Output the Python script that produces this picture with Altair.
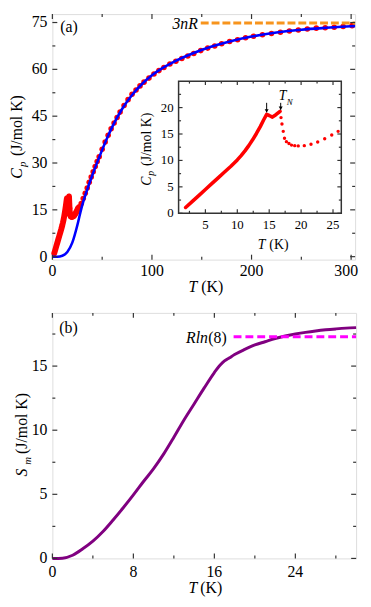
import altair as alt
import pandas as pd

FONT = "Liberation Serif"
FRAME = "#333333"
RED = "#ff0000"
BLUE = "#0000ff"
ORANGE = "#f7941d"
PURPLE = "#800080"
MAGENTA = "#ff00ff"

# ---------------- panel (a): Cp vs T ----------------
fit_T = [0, 5, 10, 15, 20, 25, 28, 30, 35, 40, 45, 50, 55, 60, 70, 80, 90, 100, 110, 120,
         140, 160, 180, 200, 225, 250, 275, 300, 305]
fit_Cp = [0, 0, 0.3, 1.5, 4.5, 10, 14, 16.5, 21.5, 26, 30.2, 34.2, 38, 41.5, 47.3, 51.8, 55.3,
          58.1, 60.3, 62.1, 65, 67.3, 69.1, 70.5, 71.8, 72.7, 73.3, 73.8, 73.9]

# dense low-temperature measurement (below the transitions)
low_T = [1.9, 3, 4, 5, 6, 7, 8, 9, 10, 10.6, 11.2, 11.8, 12.4, 13.0, 13.6, 14.1, 14.6,
         15.0, 15.5, 16.0, 16.4, 16.7]
low_Cp = [1.1, 2.3, 3.4, 4.5, 5.6, 6.7, 7.8, 8.9, 10.1, 10.9, 11.8, 12.8, 13.9, 15.1, 16.4,
          17.6, 18.7, 18.5, 18.2, 18.6, 19.0, 19.3]

# sparse points above T_N
hi_T = [16.85, 17.0, 17.2, 17.4, 17.7, 18.1, 18.5, 19.0, 19.55, 20.5, 21.55, 22.6, 23.7, 24.8, 25.8]
hi_Cp = [18.1, 16.9, 15.5, 14.2, 13.55, 13.2, 12.9, 12.8, 12.75, 12.8, 13.05, 13.5, 14.1, 14.8, 15.5]

# points over the full range
red_T = [27, 29, 31, 33, 35, 37, 39, 41, 43, 45, 47, 50, 53, 56, 59, 62, 65, 68, 72, 76, 80,
         84, 88, 92, 97, 102, 107, 112, 118, 124, 130, 136, 142, 149, 156, 163, 170, 178, 186,
         194, 202, 211, 220, 229, 238, 247, 256, 265, 274, 283, 292, 301]
red_Cp = [16.0, 17.0, 18.6, 20.3, 22.0, 23.8, 25.5, 27.2, 28.9, 30.5, 32.0, 34.4, 36.7, 38.9,
          41.0, 42.8, 44.6, 46.3, 48.4, 50.3, 52.0, 53.4, 54.7, 55.9, 57.2, 58.5, 59.6, 60.6,
          61.7, 62.6, 63.5, 64.3, 65.1, 66.0, 66.8, 67.5, 68.2, 68.9, 69.5, 70.1, 70.6, 71.1,
          71.5, 71.9, 72.3, 72.6, 72.9, 73.2, 73.3, 73.5, 73.7, 74.0]

three_nR = 74.83
dash_a_T = [149, 304]

arrow_T = [14.6, 16.8]
arrow_top = [20.9, 20.9]
arrow_tip = [19.1, 19.6]

a_x_major = [0, 100, 200, 300]
a_x_minor = [50, 150, 250]
a_y_major = [0, 15, 30, 45, 60, 75]
a_y_minor = [7.5, 22.5, 37.5, 52.5, 67.5]
in_x_major = [5, 10, 15, 20, 25]
in_x_minor = [2.5, 7.5, 12.5, 17.5, 22.5]
in_y_major = [0, 5, 10, 15, 20]
in_y_minor = [2.5, 7.5, 12.5, 17.5, 22.5]

# ---------------- panel (b): S_m vs T ----------------
S_T = [0, 1, 2, 3, 4, 5, 6, 7, 8, 9, 10, 11, 12, 13, 14, 15, 16, 16.6, 17, 17.5, 18, 19, 20,
       21, 22, 23, 24, 25, 26, 27, 28, 29, 30]
S_m = [0, 0.02, 0.25, 0.75, 1.35, 2.1, 3.0, 3.95, 4.95, 6.0, 7.0, 8.15, 9.45, 10.8, 12.05,
       13.3, 14.5, 15.1, 15.4, 15.65, 15.9, 16.3, 16.65, 16.9, 17.15, 17.35, 17.5, 17.63, 17.74,
       17.83, 17.9, 17.96, 18.0]
R_ln8 = 17.29
dash_b_T = [17.9, 30]

b_x_major = [0, 8, 16, 24]
b_x_minor = [4, 12, 20, 28]
b_y_major = [0, 5, 10, 15]
b_y_minor = [2.5, 7.5, 12.5, 17.5]

# ---------------- layout constants ----------------
WA, HA = 307, 249
WB, HB = 308, 249
IN_L, IN_R, IN_T, IN_B = 128, 293, 68, 202

ax = alt.Scale(domain=[0, 304], nice=False, zero=False)
ay = alt.Scale(domain=[-0.95, 77.7], nice=False, zero=False)
ix = alt.Scale(domain=[0.8, 26.3], range=[IN_L, IN_R], nice=False, zero=False)
iy = alt.Scale(domain=[0, 25], range=[IN_B, IN_T], nice=False, zero=False)
bx = alt.Scale(domain=[0, 30], nice=False, zero=False)
by = alt.Scale(domain=[0, 19.15], nice=False, zero=False)


def X(field, scale):
    return alt.X(field, scale=scale, axis=None)


def Y(field, scale):
    return alt.Y(field, scale=scale, axis=None)


def ticks(values, orient, length, box, scale):
    left, right, top, bottom = box
    c = alt.Chart(pd.DataFrame({"v": values})).mark_rule(color=FRAME, strokeWidth=1.2)
    if orient in ("bottom", "top"):
        x = X("v:Q", scale)
        if orient == "bottom":
            return c.encode(x=x, y=alt.value(bottom), y2=alt.value(bottom - length))
        return c.encode(x=x, y=alt.value(top), y2=alt.value(top + length))
    y = Y("v:Q", scale)
    if orient == "left":
        return c.encode(y=y, x=alt.value(left), x2=alt.value(left + length))
    return c.encode(y=y, x=alt.value(right), x2=alt.value(right - length))


def all_ticks(xmaj, xmin, ymaj, ymin, box, xs, ys, L=5, l=3):
    out = []
    for o in ("bottom", "top"):
        out += [ticks(xmaj, o, L, box, xs), ticks(xmin, o, l, box, xs)]
    for o in ("left", "right"):
        out += [ticks(ymaj, o, L, box, ys), ticks(ymin, o, l, box, ys)]
    return out


def xlabels(values, scale, ypix, size=16, dx=0):
    return alt.Chart(pd.DataFrame({"v": values})).mark_text(
        font=FONT, fontSize=size, align="center", baseline="middle", color="black", dx=dx).encode(
        x=X("v:Q", scale), y=alt.value(ypix), text="v:Q")


def ylabels(values, scale, xpix, size=16):
    return alt.Chart(pd.DataFrame({"v": values})).mark_text(
        font=FONT, fontSize=size, align="right", baseline="middle", color="black").encode(
        y=Y("v:Q", scale), x=alt.value(xpix), text="v:Q")


def label(text, x, y, size=16, italic=False, align="left", baseline="alphabetic", angle=0):
    kw = dict(text=text, font=FONT, fontSize=size, align=align, baseline=baseline, color="black")
    if italic:
        kw["fontStyle"] = "italic"
    if angle:
        kw["angle"] = angle
    return alt.Chart(pd.DataFrame({"k": [0]})).mark_text(**kw).encode(x=alt.value(x), y=alt.value(y))


# ---- panel (a) main layer ----
fit_df = pd.DataFrame({"T": fit_T, "Cp": fit_Cp})
band_df = pd.DataFrame({"T": low_T + hi_T, "Cp": low_Cp + hi_Cp})
pts_df = pd.DataFrame({"T": hi_T + red_T, "Cp": hi_Cp + red_Cp})

blue = alt.Chart(fit_df).mark_line(color=BLUE, strokeWidth=2.6, interpolate="monotone", clip=True).encode(
    x=X("T:Q", ax), y=Y("Cp:Q", ay))
band = alt.Chart(band_df).mark_line(color=RED, strokeWidth=6, strokeCap="round", strokeJoin="round").encode(
    x=X("T:Q", ax), y=Y("Cp:Q", ay))
pts = alt.Chart(pts_df).mark_circle(color=RED, size=32, opacity=1).encode(
    x=X("T:Q", ax), y=Y("Cp:Q", ay))
dash_a = alt.Chart(pd.DataFrame({"T0": [dash_a_T[0]], "T1": [dash_a_T[1]], "v": [three_nR]})).mark_rule(
    color=ORANGE, strokeWidth=3, strokeDash=[8, 3]).encode(
    x=X("T0:Q", ax), x2="T1:Q", y=Y("v:Q", ay))
lab_nR = alt.Chart(pd.DataFrame({"T": [dash_a_T[0]], "v": [three_nR], "t": ["3nR"]})).mark_text(
    font=FONT, fontSize=16, fontStyle="italic", align="right", baseline="middle", dx=-3, dy=1,
    color="black").encode(x=X("T:Q", ax), y=Y("v:Q", ay), text="t:N")

main_a = alt.layer(
    pts, band, blue, dash_a, lab_nR,
    *all_ticks(a_x_major, a_x_minor, a_y_major, a_y_minor, (0, WA, 0, HA), ax, ay),
    xlabels(a_x_major[:-1], ax, HA + 12),
    xlabels(a_x_major[-1:], ax, HA + 12, dx=-5),
    ylabels(a_y_major, ay, -5),
    label("(a)", 8, 13, baseline="middle"),
    label("T", 147, 282, italic=True, align="right"),
    label("(K)", 151, 282),
    label("C", -31, 167, italic=True, angle=270),
    label("p", -27, 155, size=11, italic=True, angle=270),
    label("(J/mol K)", -31, 144, angle=270),
)

# ---- inset ----
inset_frame = alt.Chart(pd.DataFrame({"a": [0.8], "b": [26.3], "c": [0], "d": [25]})).mark_rect(
    fill="white", stroke=FRAME, strokeWidth=1.5).encode(
    x=X("a:Q", ix), x2="b:Q", y=Y("c:Q", iy), y2="d:Q")
in_line = alt.Chart(pd.DataFrame({"T": low_T, "Cp": low_Cp})).mark_line(
    color=RED, strokeWidth=3.6, strokeCap="round", strokeJoin="round").encode(
    x=X("T:Q", ix), y=Y("Cp:Q", iy))
in_pts = alt.Chart(pd.DataFrame({"T": hi_T, "Cp": hi_Cp})).mark_circle(color=RED, size=12, opacity=1).encode(
    x=X("T:Q", ix), y=Y("Cp:Q", iy))
arr_df = pd.DataFrame({"T": arrow_T, "top": arrow_top, "tip": arrow_tip})
arr = alt.Chart(arr_df).mark_rule(color="black", strokeWidth=1).encode(
    x=X("T:Q", ix), y=Y("top:Q", iy), y2="tip:Q")
heads = alt.Chart(arr_df).mark_point(shape="triangle-down", filled=True, color="black", size=16,
                                     opacity=1, yOffset=-1.5).encode(
    x=X("T:Q", ix), y=Y("tip:Q", iy))
tn = alt.Chart(pd.DataFrame({"T": [17.1], "v": [22.1], "t": ["T"]})).mark_text(
    font=FONT, fontSize=14, fontStyle="italic", align="center", baseline="middle", color="black").encode(
    x=X("T:Q", ix), y=Y("v:Q", iy), text="t:N")
tn_sub = alt.Chart(pd.DataFrame({"T": [18.2], "v": [21.0], "t": ["N"]})).mark_text(
    font=FONT, fontSize=9, fontStyle="italic", align="center", baseline="middle", color="black").encode(
    x=X("T:Q", ix), y=Y("v:Q", iy), text="t:N")

inset = alt.layer(
    inset_frame, in_line, in_pts, arr, heads, tn, tn_sub,
    xlabels(in_x_major, ix, IN_B + 12, size=13),
    ylabels(in_y_major, iy, IN_L - 5, size=13),
    *all_ticks(in_x_major, in_x_minor, in_y_major, in_y_minor, (IN_L, IN_R, IN_T, IN_B), ix, iy, 4, 2.5),
    label("T", 216, 238, size=14, italic=True, align="right"),
    label("(K)", 220, 238, size=14),
    label("C", 100, 174, size=14, italic=True, angle=270),
    label("p", 103, 164, size=10, italic=True, angle=270),
    label("(J/mol K)", 100, 154, size=14, angle=270),
)

panel_a = alt.layer(main_a, inset).resolve_scale(x="independent", y="independent").properties(
    width=WA, height=HA)

# ---- panel (b) ----
s_line = alt.Chart(pd.DataFrame({"T": S_T, "S": S_m})).mark_line(
    color=PURPLE, strokeWidth=3, interpolate="monotone").encode(
    x=X("T:Q", bx), y=Y("S:Q", by))
dash_b = alt.Chart(pd.DataFrame({"T0": [dash_b_T[0]], "T1": [dash_b_T[1]], "v": [R_ln8]})).mark_rule(
    color=MAGENTA, strokeWidth=3, strokeDash=[8, 4]).encode(
    x=X("T0:Q", bx), x2="T1:Q", y=Y("v:Q", by))
rln_df = pd.DataFrame({"T": [dash_b_T[0]], "v": [R_ln8], "a": ["(8)"], "b": ["Rln"]})
rln8 = alt.Chart(rln_df).mark_text(font=FONT, fontSize=16, align="right", baseline="middle",
                                   dx=-7, dy=1, color="black").encode(
    x=X("T:Q", bx), y=Y("v:Q", by), text="a:N")
rln = alt.Chart(rln_df).mark_text(font=FONT, fontSize=16, fontStyle="italic", align="right",
                                  baseline="middle", dx=-26, dy=1, color="black").encode(
    x=X("T:Q", bx), y=Y("v:Q", by), text="b:N")

panel_b = alt.layer(
    s_line, dash_b, rln8, rln,
    *all_ticks(b_x_major, b_x_minor, b_y_major, b_y_minor, (0, WB, 0, HB), bx, by),
    xlabels(b_x_major, bx, HB + 14),
    ylabels(b_y_major, by, -5),
    label("(b)", 7, 15, baseline="middle"),
    label("T", 147, 284, italic=True, align="right"),
    label("(K)", 150, 284),
    label("S", -26, 166, italic=True, angle=270),
    label("m", -22, 154, size=11, italic=True, angle=270),
    label("(J/mol K)", -26, 143, angle=270),
).properties(width=WB, height=HB)

chart = alt.vconcat(panel_a, panel_b, spacing=15).properties(
    padding={"left": 0, "top": 0, "right": 0, "bottom": 0}
).configure_view(stroke=FRAME, strokeWidth=1.5).configure(font=FONT)

chart.save("out.html", embed_options={"renderer": "svg", "actions": False})
